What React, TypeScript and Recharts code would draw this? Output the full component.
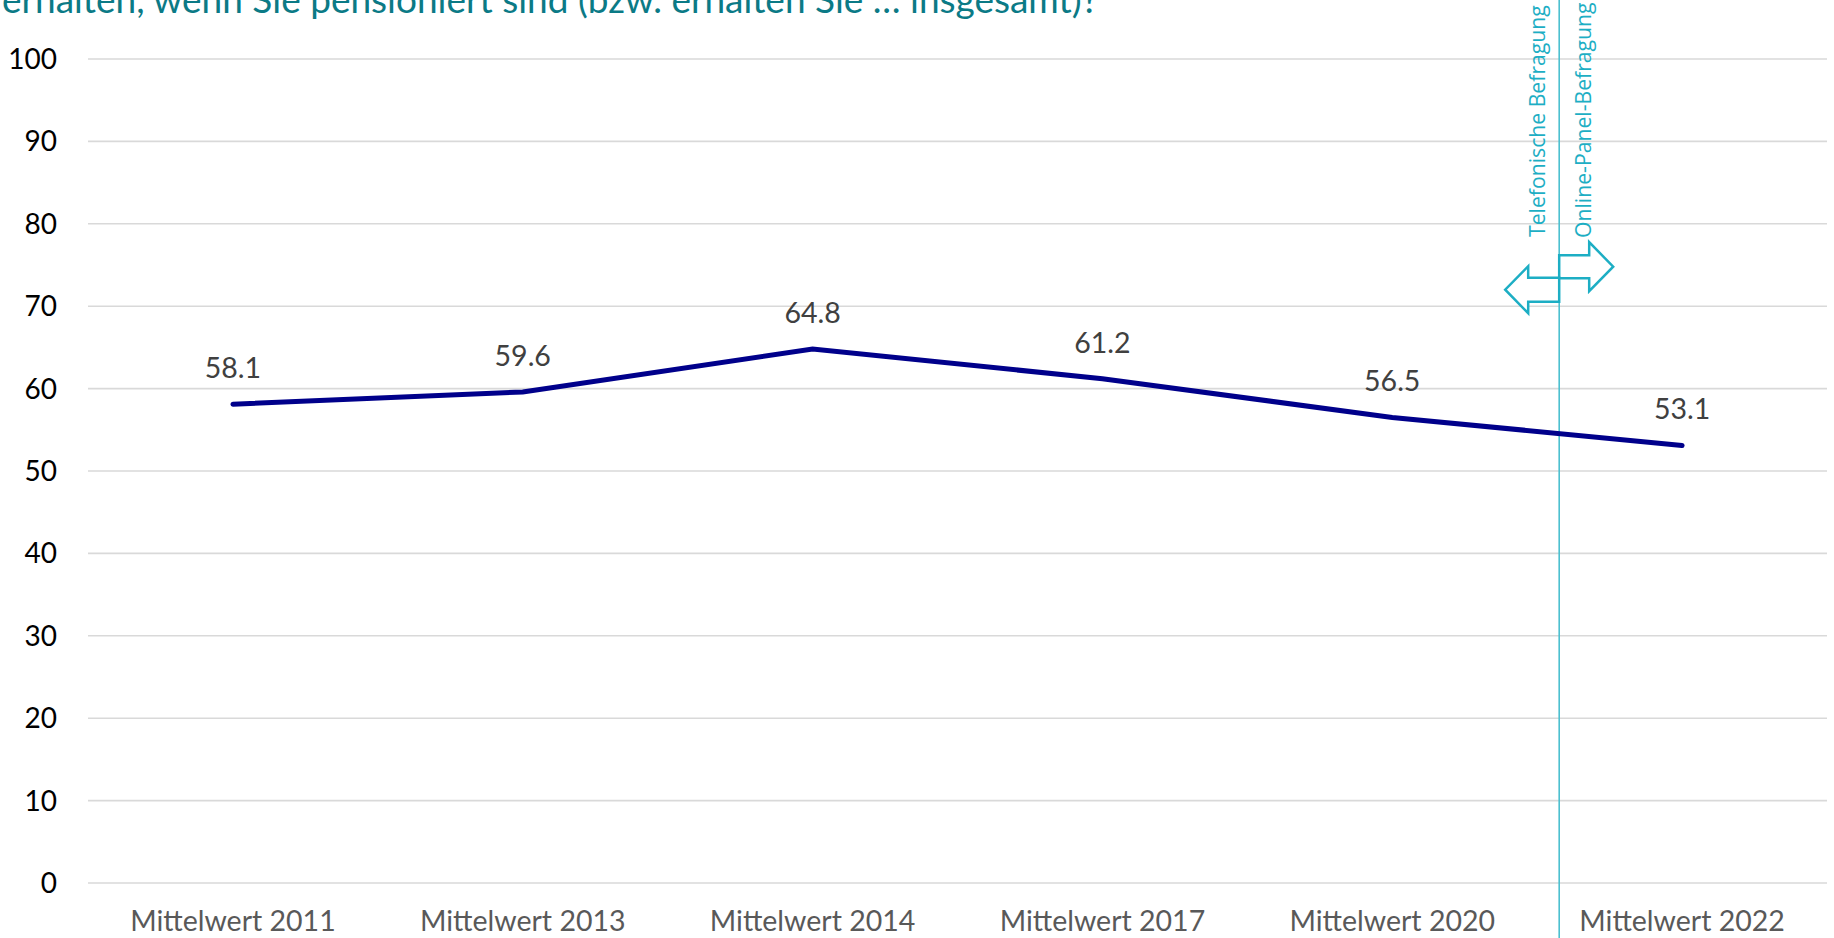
import { LineChart, Line, XAxis, YAxis, CartesianGrid, LabelList, ReferenceLine } from "recharts";

const CATEGORIES = [
  "Mittelwert 2011",
  "Mittelwert 2013",
  "Mittelwert 2014",
  "Mittelwert 2017",
  "Mittelwert 2020",
  "Mittelwert 2022",
];
const VALUES = [58.1, 59.6, 64.8, 61.2, 56.5, 53.1];
const Y_TICKS = [0, 10, 20, 30, 40, 50, 60, 70, 80, 90, 100];
const X_INDEX = [0, 1, 2, 3, 4, 5];

// where the survey method changed (between 2020 and 2022, on the index scale)
const METHOD_BREAK = 4.576;
const BREAK_LABELS = ["Telefonische Befragung", "Online-Panel-Befragung"];
// arrow centres, in y-axis units
const ARROW_LEFT_AT = 72.0;
const ARROW_RIGHT_AT = 74.8;

const TITLE = "erhalten, wenn Sie pensioniert sind (bzw. erhalten Sie … insgesamt)?";

const data = CATEGORIES.map((label, i) => ({ idx: X_INDEX[i], label, value: VALUES[i] }));

const CALIBRI = "Lato, 'Open Sans', sans-serif";
const SEGOE = "'Open Sans', 'Noto Sans', sans-serif";
const TEAL = "#1DAEC4";

const BreakMarker = (props: any) => {
  const x = props.x1;
  const top = Math.min(props.y1, props.y2);
  const bottom = Math.max(props.y1, props.y2);
  const yOf = (v: number) => bottom - (v / 100) * (bottom - top);
  const cl = yOf(ARROW_LEFT_AT);
  const cr = yOf(ARROW_RIGHT_AT);
  const left = [
    [x, cl - 12],
    [x - 31, cl - 12],
    [x - 31, cl - 23.5],
    [x - 54, cl],
    [x - 31, cl + 23.5],
    [x - 31, cl + 12],
    [x, cl + 12],
  ];
  const right = [
    [x, cr + 11.5],
    [x + 30, cr + 11.5],
    [x + 30, cr + 24.5],
    [x + 54, cr],
    [x + 30, cr - 24.5],
    [x + 30, cr - 11.5],
    [x, cr - 11.5],
  ];
  const pts = (p: number[][]) => p.map((q) => q.join(",")).join(" ");
  return (
    <g>
      <line x1={x} y1={0} x2={x} y2={938} stroke="#4CC0D0" strokeWidth={1.6} />
      <polygon points={pts(right)} fill="#fff" stroke={TEAL} strokeWidth={2.5} strokeLinejoin="miter" />
      <polygon points={pts(left)} fill="#fff" stroke={TEAL} strokeWidth={2.5} strokeLinejoin="miter" />
      <text
        transform={`translate(${x - 14}, ${top + 178}) rotate(-90)`}
        fontFamily={SEGOE}
        fontSize={21.2}
        fill={TEAL}
      >
        {BREAK_LABELS[0]}
      </text>
      <text
        transform={`translate(${x + 32}, ${top + 179}) rotate(-90)`}
        fontFamily={SEGOE}
        fontSize={21.2}
        fill={TEAL}
      >
        {BREAK_LABELS[1]}
      </text>
    </g>
  );
};

const App = () => {
  return (
    <div
      style={{
        position: "absolute",
        left: 0,
        top: 0,
        width: 1834,
        height: 938,
        overflow: "hidden",
        background: "#fff",
      }}
    >
      <LineChart
        width={1834}
        height={938}
        data={data}
        margin={{ top: 59, right: 7, left: 8, bottom: 0 }}
      >
        <CartesianGrid vertical={false} stroke="#D9D9D9" strokeWidth={1.6} />
        <XAxis
          dataKey="idx"
          type="number"
          domain={[-0.5, 5.5]}
          ticks={X_INDEX}
          tickFormatter={(i: number) => CATEGORIES[i]}
          axisLine={false}
          tickLine={false}
          tickSize={0}
          tickMargin={28}
          height={55}
          interval={0}
          tick={{ fontFamily: CALIBRI, fontSize: 28.5, fill: "#595959" }}
        />
        <YAxis
          type="number"
          domain={[0, 100]}
          ticks={Y_TICKS}
          axisLine={false}
          tickLine={false}
          tickSize={0}
          tickMargin={31}
          width={80}
          tick={{ fontFamily: CALIBRI, fontSize: 28, fill: "#000" }}
        />
        <ReferenceLine x={METHOD_BREAK} ifOverflow="visible" shape={BreakMarker} />
        <Line
          type="linear"
          dataKey="value"
          stroke="#00008B"
          strokeWidth={5}
          strokeLinecap="round"
          dot={false}
          activeDot={false}
          isAnimationActive={false}
        >
          <LabelList
            dataKey="value"
            position="top"
            offset={26}
            formatter={(v: number) => v.toFixed(1)}
            style={{ fontFamily: CALIBRI, fontSize: 28.5, fill: "#404040" }}
          />
        </Line>
      </LineChart>
      <svg
        width={1834}
        height={40}
        style={{ position: "absolute", left: 0, top: 0, pointerEvents: "none" }}
      >
        <text x={2} y={13} fontFamily={CALIBRI} fontSize={37} fill="#0B7A86">
          {TITLE}
        </text>
      </svg>
    </div>
  );
};

export default App;
